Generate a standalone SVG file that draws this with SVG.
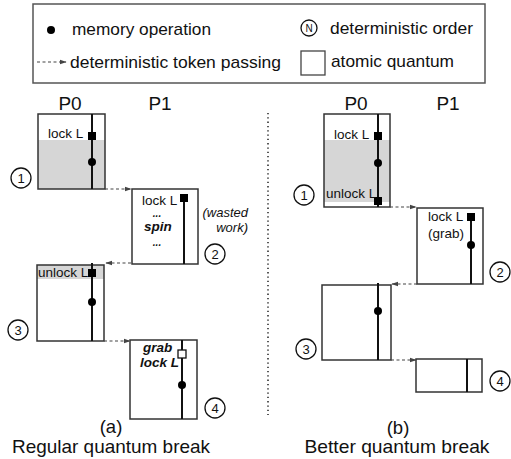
<svg xmlns="http://www.w3.org/2000/svg" width="511" height="459" viewBox="0 0 511 459">
<defs>
<style>
text{font-family:"Liberation Sans",Arial,sans-serif;fill:#111}
.lg{font-size:17px}
.hd{font-size:19px;text-anchor:middle}
.cap{font-size:18.5px;text-anchor:middle}
.lb{font-size:13.5px}
.bi{font-size:13.5px;font-weight:bold;font-style:italic}
.it{font-size:13px;font-style:italic;text-anchor:end}
.num{font-size:13px;text-anchor:middle}
.box{fill:none;stroke:#333;stroke-width:1.5}
.shade{fill:#d6d6d6}
.tl{stroke:#111;stroke-width:2}
.op{fill:#000}
.ord{fill:#fff;stroke:#111;stroke-width:1.3}
.tok{stroke:#444;stroke-width:1.2;stroke-dasharray:3,2.5;fill:none;marker-end:url(#ah)}
</style>
<marker id="ah" viewBox="0 0 10 10" refX="9" refY="5" markerWidth="7" markerHeight="7" markerUnits="userSpaceOnUse" orient="auto">
<path d="M0,1.5 L10,5 L0,8.5 z" fill="#444"/>
</marker>
</defs>
<rect width="511" height="459" fill="#fff"/>

<g id="legend">
<rect x="33" y="4" width="452" height="79" fill="#fff" stroke="#555" stroke-width="1.5"/>
<circle cx="51" cy="30" r="4" class="op"/>
<text class="lg" x="72" y="35" textLength="139" lengthAdjust="spacingAndGlyphs">memory operation</text>
<circle cx="309" cy="28" r="8" class="ord"/>
<text x="309" y="32" style="font-size:10px;text-anchor:middle">N</text>
<text class="lg" x="330" y="34" textLength="143" lengthAdjust="spacingAndGlyphs">deterministic order</text>
<line x1="37" y1="62" x2="66" y2="62" class="tok"/>
<text class="lg" x="70" y="68" textLength="211" lengthAdjust="spacingAndGlyphs">deterministic token passing</text>
<rect x="301" y="51" width="24" height="24" fill="#fff" stroke="#444" stroke-width="1.3"/>
<text class="lg" x="331" y="67" textLength="123" lengthAdjust="spacingAndGlyphs">atomic quantum</text>
</g>

<g id="panel-a-headers">
<text class="hd" x="70" y="110">P0</text>
<text class="hd" x="160" y="110">P1</text>
</g>

<g id="a-q1">
<rect x="38" y="140" width="67" height="49" class="shade"/>
<rect x="38" y="114" width="67" height="75" class="box"/>
<line x1="92" y1="114" x2="92" y2="189" class="tl"/>
<rect x="88" y="132" width="8" height="8" class="op"/>
<circle cx="92" cy="162" r="4" class="op"/>
<text class="lb" x="48" y="138">lock L</text>
<circle cx="21" cy="178" r="10" class="ord"/>
<text class="num" x="21" y="182.5">1</text>
</g>

<g id="a-q2">
<rect x="132" y="189" width="66" height="75" class="box"/>
<line x1="184" y1="198" x2="184" y2="264" class="tl"/>
<rect x="180" y="194" width="8" height="8" class="op"/>
<text class="lb" x="142" y="205">lock L</text>
<text class="bi" x="157" y="217" text-anchor="middle" style="font-size:10px">...</text>
<text class="bi" x="158" y="231" text-anchor="middle">spin</text>
<text class="bi" x="157" y="246" text-anchor="middle" style="font-size:10px">...</text>
<text class="it" x="248" y="217">(wasted</text>
<text class="it" x="248" y="232">work)</text>
<circle cx="215" cy="254" r="10" class="ord"/>
<text class="num" x="215" y="258.5">2</text>
</g>

<g id="a-q3">
<rect x="37" y="265" width="67" height="14" class="shade"/>
<rect x="37" y="265" width="67" height="76" class="box"/>
<line x1="92" y1="263" x2="92" y2="341" class="tl"/>
<rect x="88" y="269" width="8" height="8" class="op"/>
<circle cx="92" cy="302" r="4" class="op"/>
<text class="lb" x="38" y="277">unlock L</text>
<circle cx="18" cy="330" r="10" class="ord"/>
<text class="num" x="18" y="334.5">3</text>
</g>

<g id="a-q4">
<rect x="130" y="340" width="67" height="79" class="box"/>
<line x1="182" y1="340" x2="182" y2="419" class="tl"/>
<rect x="178" y="350" width="8" height="8" fill="#fff" stroke="#111" stroke-width="1.3"/>
<circle cx="182" cy="385" r="4" class="op"/>
<text class="bi" x="143" y="352">grab</text>
<text class="bi" x="140" y="367">lock L</text>
<circle cx="215" cy="408" r="10" class="ord"/>
<text class="num" x="215" y="412.5">4</text>
</g>

<g id="panel-a-caption">
<text class="cap" x="111" y="433">(a)</text>
<text class="cap" x="111" y="453" textLength="198" lengthAdjust="spacingAndGlyphs">Regular quantum break</text>
</g>

<g id="divider">
<line x1="268" y1="113" x2="268" y2="415" stroke="#222" stroke-width="1.5" stroke-dasharray="1.3,3"/>
</g>

<g id="panel-b-headers">
<text class="hd" x="356" y="110">P0</text>
<text class="hd" x="448" y="110">P1</text>
</g>

<g id="b-q1">
<rect x="324" y="140" width="66" height="62" class="shade"/>
<rect x="324" y="114" width="66" height="93" class="box"/>
<line x1="378" y1="114" x2="378" y2="207" class="tl"/>
<rect x="374" y="132" width="8" height="8" class="op"/>
<rect x="374" y="197" width="8" height="8" class="op"/>
<circle cx="378" cy="163" r="4" class="op"/>
<text class="lb" x="334" y="139">lock L</text>
<text class="lb" x="326" y="198">unlock L</text>
<circle cx="304" cy="195" r="10" class="ord"/>
<text class="num" x="304" y="199.5">1</text>
</g>

<g id="b-q2">
<rect x="417" y="208" width="66" height="76" class="box"/>
<line x1="471" y1="217" x2="471" y2="284" class="tl"/>
<rect x="467" y="213" width="8" height="8" class="op"/>
<circle cx="471" cy="245" r="4" class="op"/>
<text class="lb" x="428" y="221">lock L</text>
<text class="lb" x="428" y="238">(grab)</text>
<circle cx="500" cy="272" r="10" class="ord"/>
<text class="num" x="500" y="276.5">2</text>
</g>

<g id="b-q3">
<rect x="322" y="285" width="69" height="75" class="box"/>
<line x1="378" y1="283" x2="378" y2="360" class="tl"/>
<circle cx="378" cy="311" r="4" class="op"/>
<circle cx="306" cy="349" r="10" class="ord"/>
<text class="num" x="306" y="353.5">3</text>
</g>

<g id="b-q4">
<rect x="416" y="359" width="66" height="33" class="box"/>
<line x1="467" y1="359" x2="467" y2="392" class="tl"/>
<circle cx="500" cy="381" r="10" class="ord"/>
<text class="num" x="500" y="385.5">4</text>
</g>

<g id="panel-b-caption">
<text class="cap" x="398" y="434">(b)</text>
<text class="cap" x="397" y="453" textLength="185" lengthAdjust="spacingAndGlyphs">Better quantum break</text>
</g>

<g id="connectors">
<line x1="105" y1="189" x2="131" y2="189" class="tok"/>
<line x1="131" y1="263" x2="106" y2="263" class="tok"/>
<line x1="104" y1="341" x2="130" y2="341" class="tok"/>
<line x1="390" y1="207" x2="416" y2="207" class="tok"/>
<line x1="417" y1="284" x2="392" y2="284" class="tok"/>
<line x1="391" y1="360" x2="416" y2="360" class="tok"/>
</g>
</svg>
